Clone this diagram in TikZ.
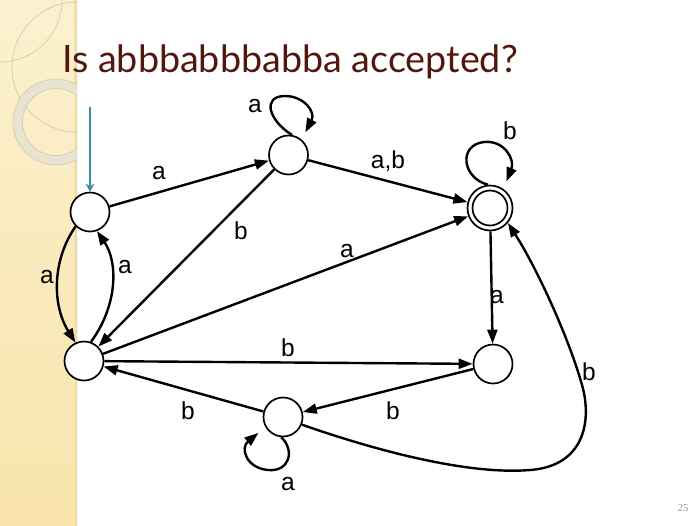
\documentclass[tikz,border=0pt]{standalone}
\usepackage{fontspec}
\setmainfont{Liberation Sans}
\newfontfamily\titlefont{Lato}
\newfontfamily\numfont{Liberation Serif}
\usetikzlibrary{arrows.meta}
\definecolor{titlered}{HTML}{521810}
\definecolor{startteal}{HTML}{3A8FA3}
\definecolor{stripA}{HTML}{FCF1CF}
\definecolor{stripB}{HTML}{F8E4AB}
\definecolor{stripEdge}{HTML}{E4D5A8}
\definecolor{ringfill}{HTML}{E8E2D0}
\definecolor{ringline}{HTML}{D6CEB6}
\definecolor{pagenum}{HTML}{9A9A80}
\begin{document}
\begin{tikzpicture}[x=1pt,y=-1pt,
  state/.style={circle,draw,line width=1.7pt,minimum size=39pt,inner sep=0pt,fill=white},
  acceptstate/.style={circle,draw,line width=1.7pt,minimum size=45pt,inner sep=0pt,fill=white},
  edge/.style={line width=2.4pt,-{Triangle[length=14pt,width=10pt]}},
  lbl/.style={font=\fontsize{24.5}{24.5}\selectfont,inner sep=0pt},
  deco/.style={ringline,line width=0.8pt}
]
\useasboundingbox (0,0) rectangle (700,525);
% left strip
\shade[top color=stripA,bottom color=stripB] (0,0) rectangle (77,525);
\shade[left color=stripB,right color=stripEdge] (74,0) rectangle (77,525);
\begin{scope}
  \clip (0,0) rectangle (77,525);
  \draw[deco] (0,0) circle (62);
  \draw[deco] (77,67) circle (65);
  \draw[ringfill,line width=9pt] (56,122) circle (38);
  \draw[deco] (56,122) circle (43);
  \draw[deco] (56,122) circle (33.5);
\end{scope}
% title
\node[anchor=base west,inner sep=0pt,text=titlered,
      font=\titlefont\fontsize{37.7}{37.7}\selectfont] (title) at (62,72) {Is abbbabbbabba accepted?};
\node[inner sep=0pt,text=pagenum,font=\numfont\fontsize{10.5}{10.5}\selectfont] (pg) at (683,508) {25};
% states
\node[state] (q0) at (90,212) {};
\node[state] (q1) at (288.5,155) {};
\node[acceptstate] (q2) at (490,208) {};
\draw[line width=1.7pt] (q2.center) circle (17.5);
\node[state] (q3) at (84,361) {};
\node[state] (q4) at (493,364) {};
\node[state] (q5) at (283,417) {};
% start
\coordinate (s) at (90,107);
\draw[startteal,line width=1.6pt,-{Stealth[length=8pt,width=9pt]}] (s) -- (q0);
% edges
\draw[edge] (q0) -- (q1);
\draw[edge] (q1) -- (q2);
\draw[edge] (q1) -- (q3);
\draw[edge] (q3) -- (q2);
\draw[edge] (q2) -- (q4);
\draw[edge] (q3) -- (q4);
\draw[edge] (q4) -- (q5);
\draw[edge] (q5) -- (q3);
\draw[edge] (q0.225) .. controls (52,260) and (52,305) .. (q3.115);
\draw[edge] (q3.70) .. controls (118,305) and (118,262) .. (q0.290);
\draw[edge,shorten >=8pt] (q1.80) .. controls (268,120) and (262,96) .. (285,96)
   .. controls (304,96) and (316,112) .. (q1.50);
\draw[edge,shorten >=8pt] (q2.95) .. controls (462,178) and (458,145) .. (484,142)
   .. controls (505,140) and (515,160) .. (q2.55);
\draw[edge,shorten >=9pt] (q5.265) .. controls (295,450) and (290,472) .. (268,470)
   .. controls (246,468) and (240,448) .. (q5.210);
\draw[edge] (q5.-22) .. controls (380,452) and (470,475) .. (530,470)
   .. controls (585,466) and (592,420) .. (582,385)
   .. controls (568,335) and (535,265) .. (q2.-40);
% labels
\node[lbl] (l1) at (159,173) {a};
\node[lbl] (l2) at (255,106) {a};
\node[lbl] (l3) at (388,161) {a,b};
\node[lbl] (l4) at (241,231) {b};
\node[lbl] (l5) at (347,251) {a};
\node[lbl] (l6) at (510,131) {b};
\node[lbl] (l7) at (497,297) {a};
\node[lbl] (l8) at (288,348) {b};
\node[lbl] (l9) at (393,411) {b};
\node[lbl] (l10) at (188,411) {b};
\node[lbl] (l11) at (288,484) {a};
\node[lbl] (l12) at (589,372) {b};
\node[lbl] (l13) at (47,277) {a};
\node[lbl] (l14) at (125,267) {a};
\end{tikzpicture}
\end{document}
